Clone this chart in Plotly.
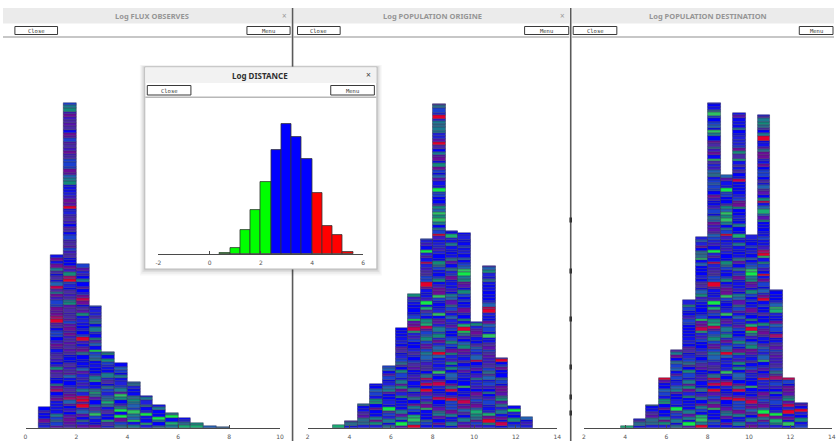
import plotly.graph_objects as go

W, H = 838, 441

# ---------------- data ----------------
flux_bin_start = 0.5
flux_bin_width = 0.5
flux_counts = [21, 173, 325, 164, 122, 76, 65, 46, 32, 23, 15, 10, 5, 2, 1]
flux_ticks = [0, 2, 4, 6, 8, 10]

pop_bin_width = 0.602
orig_bin_start = 3.198
orig_counts = [3, 7, 24, 44, 62, 100, 134, 189, 324, 197, 195, 106, 162, 70, 22, 11]
dest_bin_start = 3.8
dest_counts = [2, 9, 23, 50, 78, 128, 191, 325, 253, 315, 193, 313, 138, 50, 25]
pop_ticks = [2, 4, 6, 8, 10, 12, 14]

dist_bin_start = 0.4
dist_bin_width = 0.4
dist_counts = [1, 6, 24, 44, 72, 104, 130, 117, 95, 61, 28, 19, 2]
dist_classes = ["court", "court", "court", "court", "court",
                "moyen", "moyen", "moyen", "moyen",
                "long", "long", "long", "long"]
dist_ticks = [-2, 0, 2, 4, 6]

# ---------------- style ----------------
CLASS_COLORS = {"court": "#00ff00", "moyen": "#0000ff", "long": "#ff0000"}
BLUES = ["#0000ff", "#1010ee", "#2020dc", "#0606f8", "#1a40d0"]
PURPLES = ["#5a12b0", "#6e0c98", "#3e1ac4", "#4a2aa6"]
REDS = ["#c8004e", "#e4002c", "#a2106c"]
TEALS = ["#138a7a", "#1a7a90", "#2062b4", "#2a6a8a"]
GREENS = ["#12ea4a", "#2fc262", "#1aae72"]
SEG = [3, 2.5, 4, 2.5, 3.5, 2, 3.5, 2.5, 4.5, 3, 3, 2.5]


def pal_flux(x):
    if x < 2.5:
        return BLUES * 3 + PURPLES * 3 + REDS * 1 + TEALS * 1
    if x < 4.0:
        return BLUES * 3 + PURPLES * 1 + TEALS * 2 + GREENS * 1
    if x < 5.5:
        return BLUES * 2 + TEALS * 3 + GREENS * 2
    return GREENS * 3 + TEALS * 3 + BLUES * 1


def pal_orig(x):
    return BLUES * 6 + PURPLES * 3 + TEALS * 3 + GREENS * 1 + REDS[:2]


def pal_dest(x):
    if x > 10.3:
        return BLUES * 6 + PURPLES * 3 + TEALS * 2 + REDS * 2 + GREENS * 1
    return BLUES * 6 + PURPLES * 3 + TEALS * 3 + GREENS * 1 + REDS[:2]


def striped(start, width, counts, palf, xa, ya):
    xs, ys, bases, cols = [], [], [], []
    for k, c in enumerate(counts):
        cx = start + width * (k + 0.5)
        pal = palf(cx)
        h, j = 0.0, 0
        while h < c - 1e-9:
            s = min(SEG[(j + 3 * k) % len(SEG)], c - h)
            xs.append(cx)
            ys.append(s)
            bases.append(h)
            idx = ((k + 1) * 73856093 ^ (j + 1) * 19349663) % len(pal)
            cols.append(pal[idx])
            h += s
            j += 1
    return go.Bar(x=xs, y=ys, base=bases, width=width, xaxis=xa, yaxis=ya,
                  marker=dict(color=cols, line=dict(color="#2a2a50", width=0.45)),
                  hoverinfo="skip", showlegend=False)


def px(x):
    return x / W


def py(y):
    return 1 - y / H


fig = go.Figure()
fig.add_trace(striped(flux_bin_start, flux_bin_width, flux_counts, pal_flux, "x", "y"))
fig.add_trace(striped(orig_bin_start, pop_bin_width, orig_counts, pal_orig, "x2", "y2"))
fig.add_trace(striped(dest_bin_start, pop_bin_width, dest_counts, pal_dest, "x3", "y3"))

dist_x = [dist_bin_start + dist_bin_width * (k + 0.5) for k in range(len(dist_counts))]
fig.add_trace(go.Bar(x=dist_x, y=dist_counts, width=dist_bin_width, xaxis="x4", yaxis="y4",
                     marker=dict(color=[CLASS_COLORS[c] for c in dist_classes],
                                 line=dict(color="#333333", width=0.8)),
                     hoverinfo="skip", showlegend=False))

BASE = 428.3
TOP = 40


def xax(lo_px, hi_px, rng, ticks, anchor):
    return dict(domain=[px(lo_px), px(hi_px)], range=rng, anchor=anchor,
                showline=True, linecolor="#4a4a4a", linewidth=1,
                ticks="inside", ticklen=3, tickcolor="#4a4a4a", tickwidth=1,
                tickvals=ticks, ticktext=[str(t) for t in ticks],
                tickfont=dict(size=6, color="#555555", family="DejaVu Sans"),
                ticklabelstandoff=2,
                showgrid=False, zeroline=False, fixedrange=True)


def yax(bot_px, top_px, anchor):
    return dict(domain=[py(bot_px), py(top_px)], range=[0, bot_px - top_px],
                anchor=anchor, visible=False, fixedrange=True)


shapes = []
ann = []


def rect(x0, y0, x1, y1, fill=None, line=None, lw=1):
    shapes.append(dict(type="rect", xref="paper", yref="paper", layer="below",
                       x0=px(x0), x1=px(x1), y0=py(y1), y1=py(y0),
                       fillcolor=fill if fill else "rgba(0,0,0,0)",
                       line=dict(color=line if line else "rgba(0,0,0,0)", width=lw if line else 0)))


def hline(x0, x1, y, color, lw=1):
    shapes.append(dict(type="line", xref="paper", yref="paper", layer="below",
                       x0=px(x0), x1=px(x1), y0=py(y), y1=py(y), line=dict(color=color, width=lw)))


def vline(x, y0, y1, color, lw=1):
    shapes.append(dict(type="line", xref="paper", yref="paper", layer="below",
                       x0=px(x), x1=px(x), y0=py(y0), y1=py(y1), line=dict(color=color, width=lw)))


def text(x, y, s, size, color, family="Noto Sans"):
    ann.append(dict(xref="paper", yref="paper", x=px(x), y=py(y), text=s, showarrow=False,
                    xanchor="center", yanchor="middle",
                    font=dict(size=size, color=color, family=family)))


def button(x0, x1, y0, y1, label):
    rect(x0, y0, x1, y1, fill="#ffffff", line="#3a3a3a", lw=1)
    text((x0 + x1) / 2, (y0 + y1) / 2 + 0.3, label, 5.5, "#333333", "DejaVu Sans Mono")


# main windows
wins = [
    (0, 291, "<b>Log FLUX OBSERVES</b>", 150.5, 284, (12, 55), (246, 289.5)),
    (293, 571, "<b>Log POPULATION ORIGINE</b>", 433.5, 564, (297, 340), (526, 570.5)),
    (574, 838, "<b>Log POPULATION DESTINATION</b>", 710.5, None, (575, 619), (803, 837)),
]
for (x0, x1, title, tx, cx, cb, mb) in wins:
    rect(x0, 8, x1, 23.5, fill="#ebebeb")
    hline(x0, x1, 37, "#b4b4b4", 1.5)
    button(cb[0], cb[1], 26.5, 34.5, "Close")
    button(mb[0], mb[1], 26.5, 34.5, "Menu")
    text(tx, 15.8, title, 7.5, "#959595")
    if cx is not None:
        text(cx, 15.5, "×", 8, "#9a9a9a")

vline(292, 8, 441, "#5a5a5a", 1.6)
vline(572.5, 8, 441, "#5a5a5a", 1.6)
for yy in (220, 271, 319, 367, 397, 413):
    vline(572.5, yy - 2.5, yy + 2.5, "#333333", 2.6)

# popup window (Log DISTANCE)
for i, a in enumerate([0.03, 0.045, 0.06, 0.08]):
    d = 5 - i * 1.3
    rect(143 - d, 67 - d * 0.4, 377 + d, 269 + d * 1.3, fill="rgba(0,0,0,%.3f)" % a)
rect(143, 67, 377, 269, fill="#ffffff", line="#bdbdbd", lw=1)
rect(143.5, 67.5, 376.5, 83, fill="#f2f2f2")
hline(143.5, 376.5, 97.3, "#b8b8b8", 1.5)
button(145.5, 189.5, 85.5, 95, "Close")
button(330.5, 374.5, 85.5, 95, "Menu")
text(259.5, 75.5, "<b>Log DISTANCE</b>", 8, "#2e2e2e")
text(368.5, 75, "×", 8.5, "#444444")

fig.update_layout(
    width=W, height=H, margin=dict(l=0, r=0, t=0, b=0),
    paper_bgcolor="#ffffff", plot_bgcolor="rgba(0,0,0,0)",
    barmode="overlay", bargap=0, showlegend=False,
    xaxis=xax(22.7, 279.3, [0, 10], flux_ticks, "y"),
    yaxis=yax(BASE, TOP, "x"),
    xaxis2=xax(307.3, 559.0, [2, 14], pop_ticks, "y2"),
    yaxis2=yax(BASE, TOP, "x2"),
    xaxis3=xax(585.7, 835.7, [2, 14], pop_ticks, "y3"),
    yaxis3=yax(BASE, TOP, "x3"),
    xaxis4=xax(156.7, 363.3, [-2, 6], dist_ticks, "y4"),
    yaxis4=yax(254.3, 100, "x4"),
    shapes=shapes, annotations=ann,
)

fig.write_html("out.html", config={"displayModeBar": False},
               post_script="document.body.style.margin='0';document.body.style.overflow='hidden';")
